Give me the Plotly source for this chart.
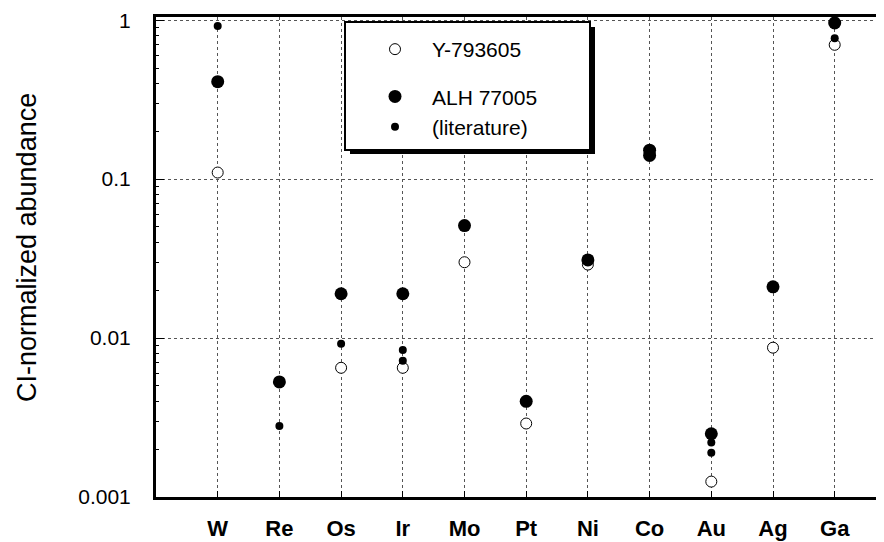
import plotly.graph_objects as go

categories = ["W", "Re", "Os", "Ir", "Mo", "Pt", "Ni", "Co", "Au", "Ag", "Ga"]

# Y-793605 (open circles)
y793605_el = ["W", "Os", "Ir", "Mo", "Pt", "Ni", "Au", "Ag", "Ga"]
y793605_val = [0.11, 0.0065, 0.0065, 0.030, 0.0029, 0.029, 0.00125, 0.0087, 0.70]

# ALH 77005 (large filled circles)
alh_el = ["W", "Re", "Os", "Ir", "Mo", "Pt", "Ni", "Co", "Co", "Au", "Ag", "Ga"]
alh_val = [0.41, 0.0053, 0.019, 0.019, 0.051, 0.0040, 0.031, 0.152, 0.141, 0.0025, 0.021, 0.96]

# ALH 77005 literature (small filled circles)
lit_el = ["W", "Re", "Os", "Ir", "Ir", "Au", "Au", "Ga"]
lit_val = [0.92, 0.0028, 0.0092, 0.0084, 0.0072, 0.0022, 0.0019, 0.77]

y_tick_vals = [0.001, 0.01, 0.1, 1]
y_tick_text = ["0.001", "0.01", "0.1", "1"]

pos = {c: i + 1 for i, c in enumerate(categories)}

FONT = "Liberation Sans, Arial, Helvetica, sans-serif"

fig = go.Figure()
fig.add_trace(go.Scatter(
    x=[pos[e] for e in y793605_el], y=y793605_val, mode="markers", name="Y-793605",
    marker=dict(symbol="circle", size=11, color="white", line=dict(color="black", width=1)),
    legendgroup="a", legendrank=1))
fig.add_trace(go.Scatter(
    x=[pos[e] for e in alh_el], y=alh_val, mode="markers", name="ALH 77005",
    marker=dict(symbol="circle", size=13, color="black", line=dict(width=0)),
    legendgroup="b", legendrank=2))
fig.add_trace(go.Scatter(
    x=[pos[e] for e in lit_el], y=lit_val, mode="markers", name="(literature)",
    marker=dict(symbol="circle", size=8, color="black", line=dict(width=0)),
    legendgroup="b", legendrank=3))

# page has an 8px body margin; work in screen pixels and convert
OFF = 8
W, H = 884, 542
plot_left, plot_top, plot_bottom = 156, 17, 497
ml = plot_left - OFF
mt = plot_top - OFF
mb = H - (plot_bottom - OFF)
mr = 0
pw, ph = W - ml - mr, H - mt - mb
cat_step = 61.7
x_max = pw / cat_step

def px_x(p):
    return (p - OFF - ml) / pw

def px_y(p):
    return (H - mb - (p - OFF)) / ph

# legend box with shadow
fig.add_shape(type="rect", xref="paper", yref="paper",
              x0=px_x(350), x1=px_x(595), y0=px_y(154), y1=px_y(27),
              fillcolor="black", line=dict(width=0), layer="above")
fig.add_shape(type="rect", xref="paper", yref="paper",
              x0=px_x(345), x1=px_x(590), y0=px_y(150), y1=px_y(22),
              fillcolor="white", line=dict(color="black", width=2), layer="above")

fig.add_annotation(text="CI-normalized abundance", xref="paper", yref="paper",
                   x=px_x(27), y=px_y(248), textangle=-90, showarrow=False,
                   xanchor="center", yanchor="middle",
                   font=dict(family=FONT, size=27, color="black"))

fig.update_layout(
    width=W, height=H,
    margin=dict(l=ml, r=mr, t=mt, b=mb, pad=0),
    paper_bgcolor="white", plot_bgcolor="white",
    showlegend=True,
    legend=dict(x=px_x(358), y=px_y(29), xanchor="left", yanchor="top",
                bgcolor="rgba(0,0,0,0)", borderwidth=0,
                font=dict(family=FONT, size=21, color="black"),
                tracegroupgap=17, traceorder="grouped", itemsizing="trace",
                itemwidth=64),
    font=dict(family=FONT, color="black"),
)
fig.update_xaxes(
    range=[0, x_max], tickmode="array", tickvals=[pos[c] for c in categories], ticktext=categories,
    showline=True, linecolor="black", linewidth=3, mirror=True,
    ticks="inside", ticklen=6, tickcolor="black", tickwidth=1,
    showgrid=True, gridcolor="#555555", griddash="dot", gridwidth=1,
    tickfont=dict(size=22, weight="bold", family=FONT), ticklabelstandoff=10,
    zeroline=False,
)
fig.update_yaxes(
    type="log", range=[-3, 0.02], tickmode="array", tickvals=y_tick_vals, ticktext=y_tick_text,
    showline=True, linecolor="black", linewidth=3, mirror=False,
    ticks="inside", ticklen=8, tickcolor="black", tickwidth=1,
    minor=dict(ticks="inside", ticklen=3, tickcolor="black", showgrid=False,
               tickvals=[m * 10 ** e for e in (-3, -2, -1) for m in range(2, 10)]),
    showgrid=True, gridcolor="#555555", griddash="dot", gridwidth=1,
    tickfont=dict(size=21), ticklabelstandoff=18,
    zeroline=False,
)

fig.write_html("out.html")
